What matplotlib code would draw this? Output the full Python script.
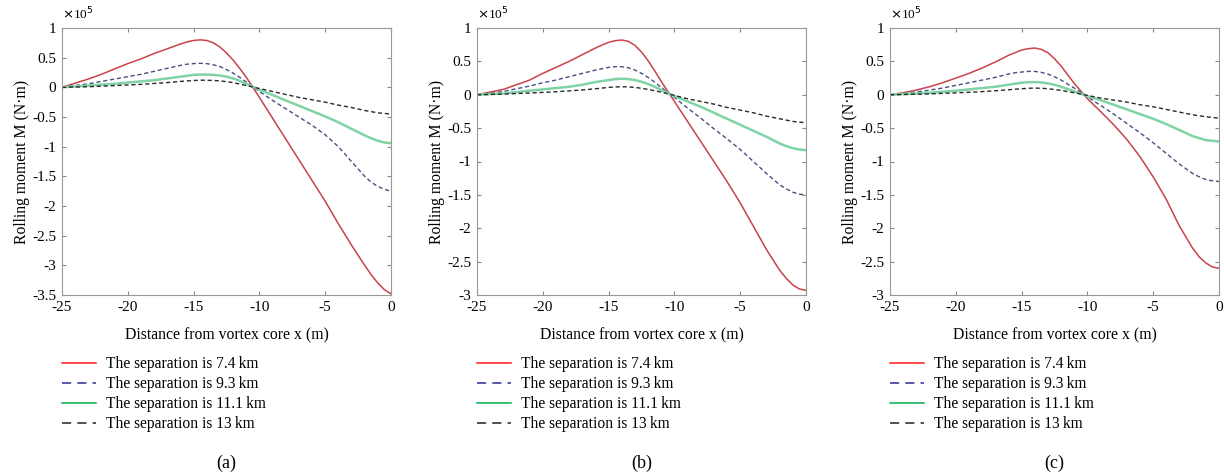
import numpy as np
import matplotlib
matplotlib.use("Agg")
import matplotlib.pyplot as plt
from matplotlib.lines import Line2D

plt.rcParams.update({
    "font.family": ["Liberation Serif", "DejaVu Serif"],
    "font.size": 11,
    "axes.unicode_minus": False,
    "xtick.direction": "in",
    "ytick.direction": "in",
    "xtick.top": True,
    "ytick.right": True,
})

# =========================
# Data (moment in units of 1e5 N*m)
# =========================
x = [-25, -24, -23, -22, -21, -20, -19, -18,
     -17, -16.5, -16, -15.5, -15, -14.5, -14, -13.5, -13, -12.5, -12, -11.5, -11,
     -10, -9, -8, -7, -6, -5, -4, -3, -2, -1.5, -1, -0.5, 0]

# panel (a)
a_74 = [0, 0.07, 0.14, 0.22, 0.31, 0.40, 0.48, 0.57,
        0.65, 0.69, 0.73, 0.765, 0.79, 0.80, 0.79, 0.75, 0.68, 0.58, 0.46, 0.32, 0.17,
        -0.17, -0.52, -0.87, -1.22, -1.57, -1.92, -2.30, -2.66, -3.00, -3.16, -3.30, -3.41, -3.48]
a_93 = [0, 0.03, 0.06, 0.10, 0.14, 0.18, 0.22, 0.27,
        0.32, 0.345, 0.37, 0.39, 0.40, 0.405, 0.40, 0.38, 0.35, 0.30, 0.24, 0.17, 0.09,
        -0.07, -0.22, -0.36, -0.50, -0.64, -0.80, -1.00, -1.25, -1.50, -1.60, -1.67, -1.72, -1.75]
a_111 = [0, 0.015, 0.03, 0.045, 0.06, 0.08, 0.10, 0.12,
         0.15, 0.165, 0.18, 0.195, 0.21, 0.215, 0.215, 0.21, 0.20, 0.18, 0.15, 0.11, 0.06,
         -0.04, -0.13, -0.22, -0.31, -0.40, -0.49, -0.59, -0.70, -0.81, -0.86, -0.90, -0.93, -0.94]
a_13 = [0, 0.005, 0.01, 0.02, 0.03, 0.04, 0.05, 0.065,
        0.08, 0.09, 0.10, 0.108, 0.115, 0.12, 0.12, 0.115, 0.11, 0.095, 0.08, 0.055, 0.03,
        -0.02, -0.07, -0.12, -0.17, -0.21, -0.25, -0.30, -0.34, -0.39, -0.41, -0.43, -0.44, -0.45]

# panel (b)
b_74 = [0, 0.04, 0.08, 0.15, 0.22, 0.32, 0.41, 0.50,
        0.60, 0.65, 0.70, 0.745, 0.785, 0.81, 0.82, 0.80, 0.74, 0.64, 0.51, 0.36, 0.20,
        -0.10, -0.40, -0.70, -1.00, -1.30, -1.62, -1.97, -2.32, -2.63, -2.75, -2.85, -2.91, -2.93]
b_93 = [0, 0.02, 0.05, 0.09, 0.13, 0.18, 0.22, 0.27,
        0.32, 0.345, 0.37, 0.39, 0.41, 0.42, 0.42, 0.405, 0.37, 0.32, 0.26, 0.19, 0.11,
        -0.04, -0.20, -0.35, -0.51, -0.66, -0.82, -1.00, -1.18, -1.35, -1.41, -1.46, -1.49, -1.50]
b_111 = [0, 0.01, 0.02, 0.04, 0.06, 0.08, 0.10, 0.12,
         0.15, 0.17, 0.19, 0.205, 0.22, 0.235, 0.24, 0.235, 0.22, 0.195, 0.16, 0.12, 0.07,
         -0.02, -0.10, -0.18, -0.27, -0.36, -0.45, -0.54, -0.63, -0.73, -0.77, -0.80, -0.82, -0.83]
b_13 = [0, 0.005, 0.01, 0.018, 0.026, 0.035, 0.045, 0.058,
        0.072, 0.08, 0.09, 0.10, 0.11, 0.117, 0.12, 0.118, 0.11, 0.097, 0.08, 0.06, 0.04,
        -0.01, -0.06, -0.10, -0.14, -0.19, -0.23, -0.27, -0.32, -0.36, -0.38, -0.40, -0.41, -0.42]

# panel (c)
c_74 = [0, 0.03, 0.07, 0.12, 0.18, 0.25, 0.32, 0.40,
        0.49, 0.54, 0.59, 0.63, 0.67, 0.69, 0.70, 0.68, 0.63, 0.54, 0.43, 0.30, 0.17,
        -0.06, -0.25, -0.45, -0.67, -0.93, -1.23, -1.57, -1.97, -2.30, -2.43, -2.52, -2.58, -2.60]
c_93 = [0, 0.02, 0.04, 0.07, 0.10, 0.14, 0.18, 0.22,
        0.26, 0.285, 0.31, 0.33, 0.34, 0.35, 0.35, 0.335, 0.31, 0.27, 0.22, 0.16, 0.10,
        -0.03, -0.16, -0.29, -0.43, -0.57, -0.72, -0.88, -1.04, -1.18, -1.23, -1.27, -1.29, -1.30]
c_111 = [0, 0.01, 0.02, 0.03, 0.045, 0.06, 0.08, 0.10,
         0.12, 0.135, 0.15, 0.165, 0.18, 0.188, 0.19, 0.185, 0.17, 0.15, 0.12, 0.085, 0.05,
         -0.02, -0.08, -0.15, -0.22, -0.29, -0.36, -0.44, -0.53, -0.62, -0.65, -0.68, -0.69, -0.70]
c_13 = [0, 0.004, 0.008, 0.013, 0.02, 0.028, 0.037, 0.047,
        0.06, 0.067, 0.075, 0.083, 0.09, 0.097, 0.10, 0.097, 0.09, 0.078, 0.065, 0.048, 0.03,
        -0.01, -0.05, -0.08, -0.11, -0.15, -0.18, -0.22, -0.26, -0.30, -0.315, -0.33, -0.34, -0.35]

labels = ["The separation is 7.4\u2009km", "The separation is 9.3\u2009km",
          "The separation is 11.1\u2009km", "The separation is 13\u2009km"]
panel_names = ["(a)", "(b)", "(c)"]
ylims = [(-3.5, 1), (-3, 1), (-3, 1)]

panels = [
    [a_74, a_93, a_111, a_13],
    [b_74, b_93, b_111, b_13],
    [c_74, c_93, c_111, c_13],
]

# line styles as drawn in the plot
plot_colors = ["#c8434a", "#46507e", "#7fd3a4", "#2a2a2a"]
plot_styles = ["-", (0, (3, 2)), "-", (0, (3, 2))]
plot_widths = [1.1, 1.0, 1.8, 1.0]
# legend colours (brighter)
leg_colors = ["#ff1a1a", "#2b2b96", "#00b050", "#222222"]
leg_styles = ["-", (0, (6, 4)), "-", (0, (6, 4))]

fig = plt.figure(figsize=(12.24, 4.74), dpi=100)

lefts = [62 / 1224, 477 / 1224, 890 / 1224]
width = 329 / 1224
bottom = 1 - 295 / 474
height = (295 - 28) / 474

for i, series in enumerate(panels):
    ax = fig.add_axes([lefts[i], bottom, width, height])
    for j, ys in enumerate(series):
        ax.plot(x, ys, color=plot_colors[j], ls=plot_styles[j], lw=plot_widths[j])

    ax.set_xlim(-25, 0)
    ax.set_ylim(*ylims[i])
    ax.set_xticks([-25, -20, -15, -10, -5, 0])
    yt = np.arange(ylims[i][0], 1.01, 0.5)
    ax.set_yticks(yt)
    ax.set_yticklabels([f"{v:g}" for v in yt])
    ax.tick_params(labelsize=11, length=3, color="#888888", pad=4)
    for sp in ax.spines.values():
        sp.set_color("#999999")
        sp.set_linewidth(0.8)

    ax.set_xlabel("Distance from vortex core x (m)", fontsize=11.3, labelpad=10)
    ax.set_ylabel("Rolling moment M (N\u00b7m)", fontsize=11.3, labelpad=2)
    ax.text(0.0, 1.02, r"$\times$10$^5$", transform=ax.transAxes, fontsize=9.5,
            ha="left", va="bottom")

    handles = [Line2D([0], [0], color=leg_colors[k], ls=leg_styles[k], lw=1.1) for k in range(4)]
    fig.legend(handles, labels, loc="upper left",
               bbox_to_anchor=(lefts[i], 1 - 356 / 474),
               frameon=False, fontsize=11.2, handlelength=2.2, handletextpad=0.6,
               labelspacing=0.26, borderpad=0, borderaxespad=0)

    fig.text(lefts[i] + width / 2, 1 - 463 / 474, panel_names[i], ha="center", va="center",
             fontsize=13)

plt.savefig("out.png", dpi=100)
